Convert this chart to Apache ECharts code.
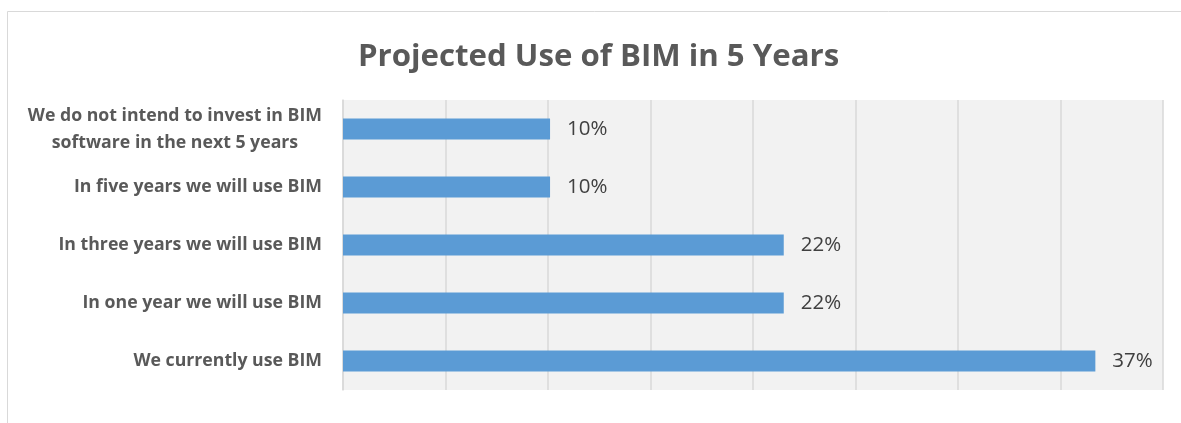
<!DOCTYPE html>
<html>
<head>
<meta charset="utf-8">
<script src="https://cdn.jsdelivr.net/npm/echarts@6/dist/echarts.min.js"></script>
<style>
html,body{margin:0;padding:0;background:#fff;}
#c{width:1181px;height:423px;}
</style>
</head>
<body>
<div id="c"></div>
<script>
const titleText = "Projected Use of BIM in 5 Years";
const categories = [
  "We do not intend to invest in BIM\nsoftware in the next 5 years",
  "In five years we will use BIM",
  "In three years we will use BIM",
  "In one year we will use BIM",
  "We currently use BIM"
];
const values = [10.1, 10.1, 21.5, 21.5, 36.7];
const axisMax = 40;
const axisStep = 5;

const chart = echarts.init(document.getElementById('c'), null, {renderer: 'canvas'});
chart.setOption({
  animation: false,
  backgroundColor: '#ffffff',
  graphic: [{
    type: 'rect', silent: true, z: -10,
    shape: {x: 7.5, y: 11.5, width: 1300, height: 600},
    style: {fill: 'none', stroke: '#d9d9d9', lineWidth: 1}
  }],
  title: {
    text: titleText,
    left: 353,
    top: 37,
    textStyle: {fontFamily: 'Open Sans', fontWeight: 'bold', fontSize: 31.2, color: '#595959'}
  },
  grid: {
    left: 343, right: 18, top: 100, bottom: 33,
    show: true, backgroundColor: '#f2f2f2', borderWidth: 0
  },
  xAxis: {
    type: 'value', min: 0, max: axisMax, interval: axisStep,
    axisLabel: {show: false},
    axisLine: {show: false},
    axisTick: {show: false},
    splitLine: {show: true, lineStyle: {color: '#d9d9d9', width: 1.5}}
  },
  yAxis: {
    type: 'category', data: categories, inverse: true,
    axisLine: {show: true, lineStyle: {color: '#d9d9d9', width: 1.5}},
    axisTick: {show: false},
    axisLabel: {
      margin: 21,
      align: 'right',
      formatter: function (v) {
        return v.split('\n').map(function (s) { return '{a|' + s + '}'; }).join('\n');
      },
      rich: {
        a: {align: 'center', fontFamily: 'Open Sans', fontWeight: 'bold', fontSize: 17.7, color: '#595959', lineHeight: 27}
      }
    }
  },
  series: [{
    type: 'bar',
    data: values,
    barWidth: 21,
    itemStyle: {color: '#5b9bd5'},
    label: {
      show: true, position: 'right', distance: 17,
      formatter: function (p) { return Math.round(p.value) + '%'; },
      fontFamily: 'Open Sans', fontSize: 20.5, color: '#404040'
    }
  }]
});
</script>
</body>
</html>
